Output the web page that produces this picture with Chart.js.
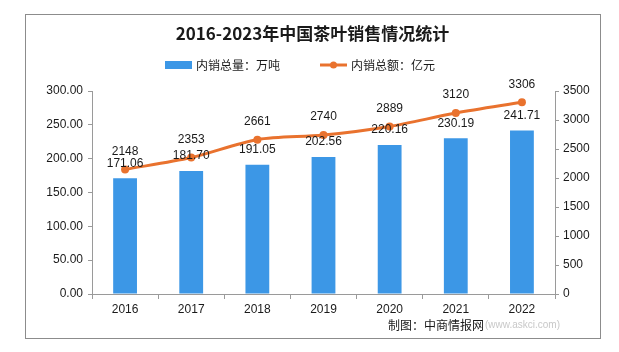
<!DOCTYPE html>
<html><head><meta charset="utf-8">
<script src="https://cdn.jsdelivr.net/npm/chart.js@4.4.0/dist/chart.umd.min.js"></script>
<style>html,body{margin:0;padding:0;background:#fff;}#wrap{width:619px;height:352px;}</style>
</head><body><div id="wrap"><canvas id="c" width="619" height="352"></canvas></div>
<script>
const titleText = '2016-2023年中国茶叶销售情况统计';
const categories = ['2016', '2017', '2018', '2019', '2020', '2021', '2022'];
const volumeName = '内销总量：万吨';
const volumeValues = [171.06, 181.70, 191.05, 202.56, 220.16, 230.19, 241.71];
const amountName = '内销总额：亿元';
const amountValues = [2148, 2353, 2661, 2740, 2889, 3120, 3306];
const leftTicks = [0, 50, 100, 150, 200, 250, 300];
const rightTicks = [0, 500, 1000, 1500, 2000, 2500, 3000, 3500];
const sourceText = '制图：中商情报网';
const sourceUrl = '(www.askci.com)';

const BAR = '#3C97E6';
const LINE = '#E9722E';
const AXIS = '#9a9a9a';
const TXT = '#1a1a1a';
const NUMFONT = "'Liberation Sans', Arial, sans-serif";
const CJK = "'Noto Sans CJK SC', sans-serif";

const decor = {
  id: 'decor',
  beforeDraw(chart) {
    const ctx = chart.ctx;
    ctx.save();
    ctx.fillStyle = '#fff';
    ctx.fillRect(0, 0, chart.width, chart.height);
    ctx.strokeStyle = '#8c8c8c';
    ctx.lineWidth = 1;
    ctx.strokeRect(25.5, 14.5, 575, 324);
    ctx.restore();
  },
  afterDatasetsDraw(chart) {
    const ctx = chart.ctx;
    ctx.save();
    ctx.font = '12px ' + NUMFONT;
    ctx.fillStyle = TXT;
    ctx.textAlign = 'center';
    ctx.textBaseline = 'middle';
    chart.getDatasetMeta(0).data.forEach((el, i) => {
      ctx.fillText(volumeValues[i].toFixed(2), el.x, el.y - 15);
    });
    chart.getDatasetMeta(1).data.forEach((el, i) => {
      ctx.fillText(String(amountValues[i]), el.x, el.y - 18);
    });
    ctx.restore();
  },
  afterDraw(chart) {
    const ctx = chart.ctx;
    ctx.save();
    // legend
    ctx.font = '12px ' + CJK;
    ctx.textBaseline = 'middle';
    ctx.fillStyle = TXT;
    const w1 = ctx.measureText(volumeName).width;
    const w2 = ctx.measureText(amountName).width;
    const sw = 27, gapT = 4, gapItems = 40;
    const total = sw + gapT + w1 + gapItems + sw + gapT + w2;
    let x = 300 - total / 2;
    const y = 65;
    ctx.fillStyle = BAR;
    ctx.fillRect(x, y - 4, sw, 8);
    ctx.fillStyle = TXT;
    ctx.textAlign = 'left';
    ctx.fillText(volumeName, x + sw + gapT, y);
    x += sw + gapT + w1 + gapItems;
    ctx.strokeStyle = LINE;
    ctx.lineWidth = 3;
    ctx.beginPath();
    ctx.moveTo(x, y);
    ctx.lineTo(x + sw, y);
    ctx.stroke();
    ctx.fillStyle = LINE;
    ctx.beginPath();
    ctx.arc(x + sw / 2, y, 3.5, 0, Math.PI * 2);
    ctx.fill();
    ctx.fillStyle = TXT;
    ctx.fillText(amountName, x + sw + gapT, y);
    // footer
    const fy = 325;
    ctx.font = '10px ' + NUMFONT;
    ctx.fillStyle = '#c8c8c8';
    ctx.textAlign = 'right';
    const right = chart.chartArea.right + 5;
    ctx.fillText(sourceUrl, right, fy);
    const uw = ctx.measureText(sourceUrl).width;
    ctx.font = '12px ' + CJK;
    ctx.fillStyle = TXT;
    ctx.fillText(sourceText, right - uw - 1, fy);
    ctx.restore();
  }
};

new Chart(document.getElementById('c'), {
  type: 'bar',
  data: {
    labels: categories,
    datasets: [
      {
        type: 'bar',
        label: volumeName,
        data: volumeValues,
        backgroundColor: BAR,
        borderWidth: 0,
        yAxisID: 'y',
        barPercentage: 0.36,
        categoryPercentage: 1,
        order: 2
      },
      {
        type: 'line',
        label: amountName,
        data: amountValues,
        borderColor: LINE,
        backgroundColor: LINE,
        borderWidth: 3,
        pointRadius: 4,
        pointBackgroundColor: LINE,
        pointBorderWidth: 0,
        tension: 0.3,
        yAxisID: 'y1',
        order: 1
      }
    ]
  },
  options: {
    responsive: false,
    devicePixelRatio: 1,
    animation: false,
    layout: { padding: { top: 14, left: 25, right: 19, bottom: 14 } },
    plugins: {
      legend: { display: false },
      tooltip: { enabled: false },
      title: {
        display: true,
        text: titleText,
        color: TXT,
        font: { family: CJK, size: 17, weight: 'bold' },
        padding: { top: 9.5, bottom: 47.1 }
      }
    },
    scales: {
      x: {
        offset: true,
        grid: { display: true, offset: true, drawOnChartArea: false, drawTicks: true, tickLength: 5, color: AXIS },
        border: { display: true, color: AXIS },
        ticks: { color: TXT, font: { family: NUMFONT, size: 12 }, padding: 3, maxRotation: 0 },
        afterFit(s) { s.height = 44; }
      },
      y: {
        position: 'left',
        min: leftTicks[0],
        max: leftTicks[leftTicks.length - 1],
        afterBuildTicks(s) { s.ticks = leftTicks.map(v => ({ value: v })); },
        grid: { display: true, drawOnChartArea: false, drawTicks: true, tickLength: 4, color: AXIS },
        border: { display: true, color: AXIS },
        ticks: { color: TXT, font: { family: NUMFONT, size: 12 }, padding: 5, callback: v => Number(v).toFixed(2) },
        afterFit(s) { s.width = 67; }
      },
      y1: {
        position: 'right',
        min: rightTicks[0],
        max: rightTicks[rightTicks.length - 1],
        afterBuildTicks(s) { s.ticks = rightTicks.map(v => ({ value: v })); },
        grid: { display: true, drawOnChartArea: false, drawTicks: true, tickLength: 4, color: AXIS },
        border: { display: true, color: AXIS },
        ticks: { color: TXT, font: { family: NUMFONT, size: 12 }, padding: 4, callback: v => String(v) },
        afterFit(s) { s.width = 45; }
      }
    }
  },
  plugins: [decor]
});
</script>
</body></html>
